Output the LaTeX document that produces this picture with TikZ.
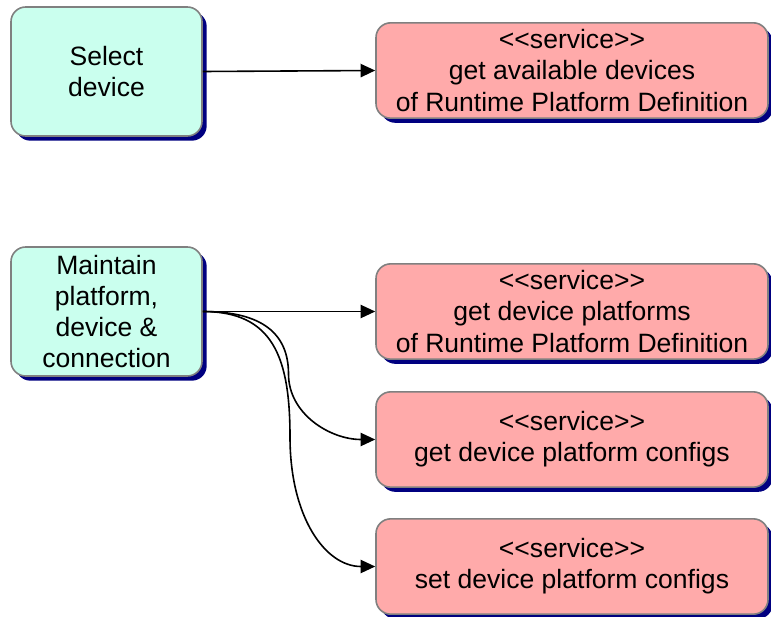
\documentclass[tikz,border=0pt]{standalone}
\usepackage{fontspec}
\setmainfont{Liberation Sans}
\usepackage{tikz}
\usetikzlibrary{arrows.meta}
\usetikzlibrary{shadows}
\definecolor{usecasefill}{RGB}{202,255,238}
\definecolor{servicefill}{RGB}{255,170,170}
\definecolor{boxline}{RGB}{128,128,128}
\definecolor{shadowblue}{RGB}{0,0,128}
\newcommand{\svctag}{<\kern0pt<service>\kern0pt>}
\begin{document}
\begin{tikzpicture}[
  x=0.75pt, y=-0.75pt,
  every node/.style={font=\fontsize{19.9}{23.3}\selectfont,align=center,inner sep=0pt},
  box/.style={rectangle,rounded corners=11pt,draw=boxline,line width=1.2pt,
    drop shadow={shadow xshift=3.5pt,shadow yshift=-3.5pt,fill=shadowblue,opacity=1}},
  usecase/.style={box,fill=usecasefill,minimum width=143.25pt,minimum height=96.75pt},
  service/.style={box,fill=servicefill,minimum width=294pt,minimum height=71.5pt},
  link/.style={line width=1.2pt,-{Triangle[length=11pt,width=10pt]}}]
\useasboundingbox (0,0) rectangle (771,617);
\node[usecase] (select) at (106.5,71.5) {Select\\device};
\node[service] (avail) at (572,70.5) {\svctag\\get available devices\\of Runtime Platform Definition};
\node[usecase] (maintain) at (106.5,311.5) {Maintain\\platform,\\device \&\\connection};
\node[service] (platforms) at (572,311.5) {\svctag\\get device platforms\\of Runtime Platform Definition};
\node[service] (getcfg) at (572,439.5) {\svctag\\get device platform configs};
\node[service] (setcfg) at (572,566.5) {\svctag\\set device platform configs};
\coordinate (bendget) at (288.5,374);
\coordinate (bendset) at (290,437);
\draw[link] (select.east) -- (avail.west);
\draw[link] (maintain.east) -- (platforms.west);
\draw[link] (maintain.east) .. controls +(60,0) and +(0,-40) .. (bendget)
  .. controls +(0,40) and +(-45,0) .. (getcfg.west);
\draw[link] (maintain.east) .. controls +(70,0) and +(0,-80) .. (bendset)
  .. controls +(0,80) and +(-50,0) .. (setcfg.west);
\end{tikzpicture}
\end{document}
